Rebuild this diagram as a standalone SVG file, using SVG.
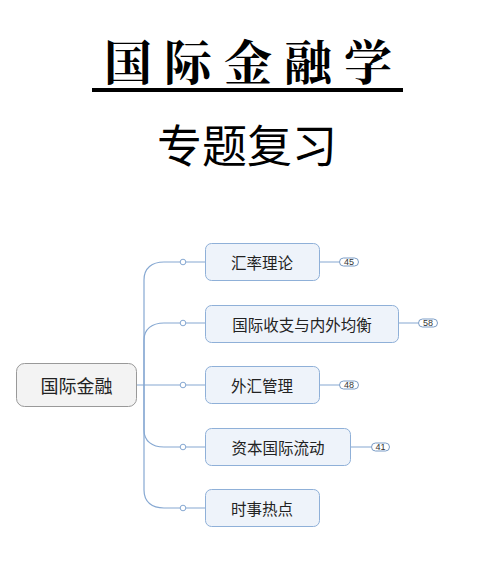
<svg xmlns="http://www.w3.org/2000/svg" width="496" height="581" viewBox="0 0 496 581">
<style>
.child rect{fill:#EEF3FA;stroke:#8FB0D8;stroke-width:1}
.child text{font-family:"Noto Sans CJK SC","Noto Sans",sans-serif;font-size:15.5px;fill:#222;text-anchor:middle;dominant-baseline:central}
.conn{fill:none;stroke:#86A8D2;stroke-width:1.2}
.dot{fill:#fff;stroke:#86A8D2;stroke-width:1}
.badge rect{fill:#fff;stroke:#7A9CC6;stroke-width:1}
.badge text{font-family:"Liberation Sans",Arial,sans-serif;font-size:9px;fill:#333;text-anchor:middle;dominant-baseline:central}
</style>
<rect width="496" height="581" fill="#fff"/>
<g id="title">
<text x="254" y="80" font-family="'Noto Serif CJK SC','Noto Sans CJK SC',serif" font-weight="bold" font-size="48" letter-spacing="12" text-anchor="middle" fill="#000">国际金融学</text>
<rect x="92" y="88" width="311" height="4" fill="#000"/>
<text x="247" y="163" font-family="'Noto Sans CJK SC',sans-serif" font-size="45" text-anchor="middle" fill="#000">专题复习</text>
</g>
<g id="connectors">
<path class="conn" d="M137,385 H205"/>
<path class="conn" d="M144,385 V280 C144,268 152,262 164,262 H205"/>
<path class="conn" d="M144,385 V340 C144,329 152,323 164,323 H205"/>
<path class="conn" d="M144,385 V430 C144,441 152,447 164,447 H205"/>
<path class="conn" d="M144,385 V490 C144,502 152,508 164,508 H205"/>
<circle class="dot" cx="183" cy="262" r="2.8"/>
<circle class="dot" cx="183" cy="323" r="2.8"/>
<circle class="dot" cx="183" cy="385" r="2.8"/>
<circle class="dot" cx="183" cy="447" r="2.8"/>
<circle class="dot" cx="183" cy="508" r="2.8"/>
<path class="conn" d="M319,262 H339 M399,323 H418 M319,385 H339 M351,447 H371"/>
</g>
<g id="root">
<rect x="16.5" y="363.5" width="120" height="43" rx="8" fill="#F3F3F3" stroke="#999" stroke-width="1"/>
<text x="76.5" y="385" font-family="'Noto Sans CJK SC',sans-serif" font-size="18" text-anchor="middle" dominant-baseline="central" fill="#222">国际金融</text>
</g>
<g id="n1" class="child">
<rect x="205.5" y="243.5" width="114" height="37" rx="6"/>
<text x="262" y="262">汇率理论</text>
</g>
<g id="n2" class="child">
<rect x="205.5" y="305.5" width="193" height="37" rx="6"/>
<text x="302" y="324">国际收支与内外均衡</text>
</g>
<g id="n3" class="child">
<rect x="205.5" y="366.5" width="114" height="37" rx="6"/>
<text x="262" y="385">外汇管理</text>
</g>
<g id="n4" class="child">
<rect x="205.5" y="428.5" width="145" height="37" rx="6"/>
<text x="278" y="447">资本国际流动</text>
</g>
<g id="n5" class="child">
<rect x="205.5" y="489.5" width="114" height="37" rx="6"/>
<text x="262" y="508">时事热点</text>
</g>
<g id="b1" class="badge"><rect x="339.5" y="258" width="19" height="8" rx="4"/><text x="349" y="262">45</text></g>
<g id="b2" class="badge"><rect x="418.5" y="319" width="19" height="8" rx="4"/><text x="428" y="323">58</text></g>
<g id="b3" class="badge"><rect x="339.5" y="381" width="19" height="8" rx="4"/><text x="349" y="385">48</text></g>
<g id="b4" class="badge"><rect x="371.5" y="443" width="18" height="8" rx="4"/><text x="380.5" y="447">41</text></g>
</svg>
